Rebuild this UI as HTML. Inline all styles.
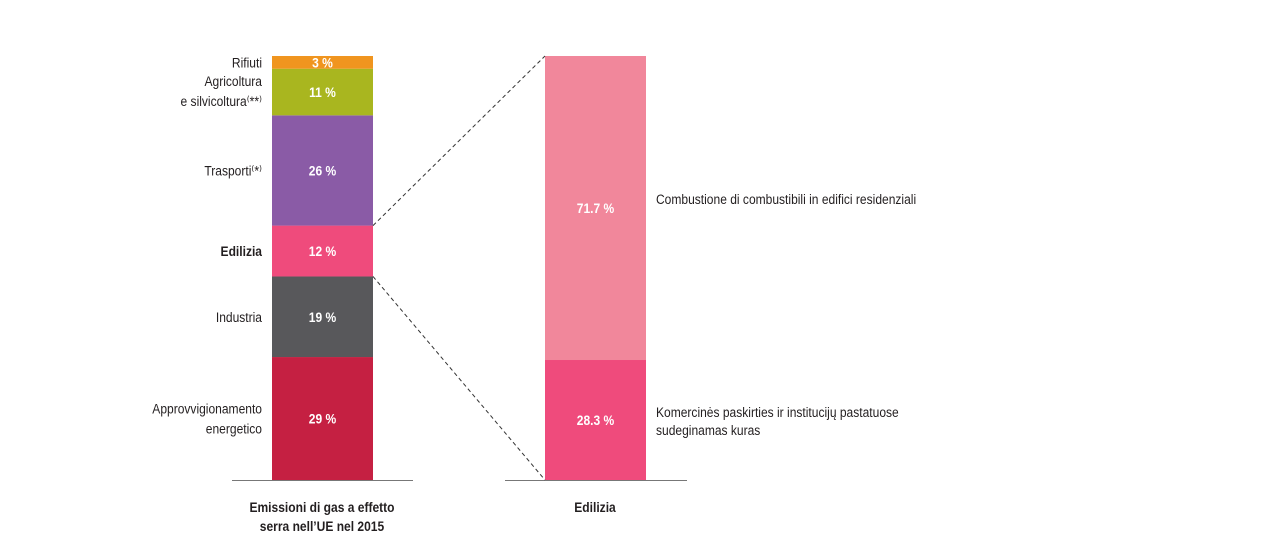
<!DOCTYPE html>
<html><head><meta charset="utf-8"><style>
html,body{margin:0;padding:0;background:#fff;}
svg text{font-family:"Liberation Sans Narrow","Liberation Sans",sans-serif;font-size:14px;fill:#231f20;}
</style></head><body>
<svg id="chart" width="1278" height="533" viewBox="0 0 1278 533" xmlns="http://www.w3.org/2000/svg"></svg>
<script>
const leftCategories = ["Approvvigionamento energetico","Industria","Edilizia","Trasporti","Agricoltura e silvicoltura","Rifiuti"];
const leftValues = [29,19,12,26,11,3];
const leftColors = ["#c52042","#58585b","#ef4b7c","#8a5ba6","#a9b61f","#f0951f"];
const rightCategories = ["Komercinės paskirties ir institucijų pastatuose sudeginamas kuras","Combustione di combustibili in edifici residenziali"];
const rightValues = [28.3,71.7];
const rightColors = ["#ef4b7c","#f1879b"];

const NS="http://www.w3.org/2000/svg";
const svg=document.getElementById('chart');
const top0=56,bottom0=480,H=bottom0-top0;
const SX=0.86;
function el(t,a,txt){const e=document.createElementNS(NS,t);for(const k in a)e.setAttribute(k,a[k]);if(txt!==undefined)e.textContent=txt;svg.appendChild(e);return e;}
function squeeze(t,x){t.setAttribute('transform','translate('+x+',0) scale('+SX+',1) translate('+(-x)+',0)');}
function y(v,total){return bottom0-v/total*H;}
function stack(vals,cols,x,w,fmt,name){
  const total=vals.reduce((a,b)=>a+b,0);let acc=0;const pos=[];
  vals.forEach((v,i)=>{
    const y1=y(acc,total),y2=y(acc+v,total);
    const r=el('rect',{x:x,y:y2,width:w,height:y1-y2,fill:cols[i]});
    
    
    const t=el('text',{x:x+w/2,y:(y1+y2)/2+5,'text-anchor':'middle',style:'fill:#fff;font-weight:bold'},fmt(v));
    
    
    squeeze(t,x+w/2);
    pos.push([y1,y2]);acc+=v;
  });
  return pos;
}
const lp=stack(leftValues,leftColors,272,101,v=>v+' %','left-bar');
const rp=stack(rightValues,rightColors,545,101,v=>v.toFixed(1)+' %','right-bar');

function lab(lines,yc,bold,name){
  const t=el('text',{x:262,y:yc-(lines.length-1)*10+5,'text-anchor':'end',style:bold?'font-weight:bold':''});
  
  
  lines.forEach((l,i)=>{const s=document.createElementNS(NS,'tspan');s.setAttribute('x',262);if(i>0)s.setAttribute('dy',20);s.textContent=l;t.appendChild(s);});
  squeeze(t,262);
  return t;
}
lab(["Approvvigionamento","energetico"],(lp[0][0]+lp[0][1])/2,false,'label-energia');
lab(["Industria"],(lp[1][0]+lp[1][1])/2,false,'label-industria');
lab(["Edilizia"],(lp[2][0]+lp[2][1])/2,true,'label-edilizia');
lab(["Trasporti⁽*⁾"],(lp[3][0]+lp[3][1])/2,false,'label-trasporti');
lab(["Agricoltura","e silvicoltura⁽**⁾"],(lp[4][0]+lp[4][1])/2-1,false,'label-agricoltura');
lab(["Rifiuti"],(lp[5][0]+lp[5][1])/2,false,'label-rifiuti');

function rlab(lines,yc,name){
  const t=el('text',{x:656,y:yc-(lines.length-1)*9+5});
  
  
  lines.forEach((l,i)=>{const s=document.createElementNS(NS,'tspan');s.setAttribute('x',656);if(i>0)s.setAttribute('dy',18);s.textContent=l;t.appendChild(s);});
  squeeze(t,656);
}
rlab(["Komercinės paskirties ir institucijų pastatuose","sudeginamas kuras"],(rp[0][0]+rp[0][1])/2+1,'label-commercial');
rlab(["Combustione di combustibili in edifici residenziali"],(rp[1][0]+rp[1][1])/2-9,'label-residential');

let b=el('line',{x1:232,x2:413,y1:480.5,y2:480.5,stroke:'#777','stroke-width':1});

b=el('line',{x1:505,x2:687,y1:480.5,y2:480.5,stroke:'#777','stroke-width':1});


let c=el('line',{x1:373,y1:lp[2][1],x2:545,y2:top0,stroke:'#333','stroke-dasharray':'4,3'});

c=el('line',{x1:373,y1:lp[2][0],x2:545,y2:bottom0,stroke:'#333','stroke-dasharray':'4,3'});


let t=el('text',{x:322,y:512,'text-anchor':'middle',style:'font-weight:bold'});

t.innerHTML='<tspan x="322">Emissioni di gas a effetto</tspan><tspan x="322" dy="19">serra nell’UE nel 2015</tspan>';
squeeze(t,322);
t=el('text',{x:595,y:512,'text-anchor':'middle',style:'font-weight:bold'},'Edilizia');

squeeze(t,595);
</script>
</body></html>
